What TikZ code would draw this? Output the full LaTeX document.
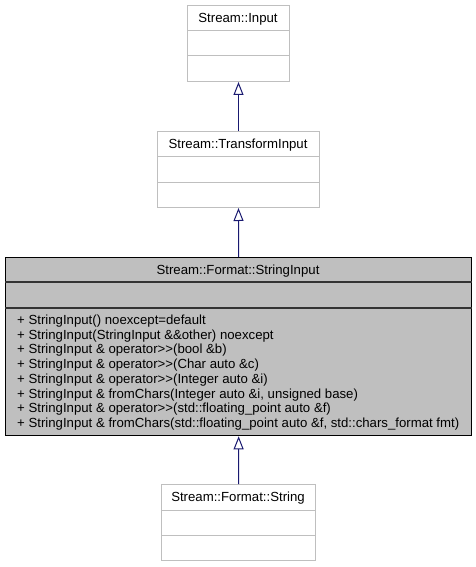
\documentclass[tikz,border=0pt]{standalone}
\usepackage{fontspec}
\setmainfont{Liberation Sans}
\usetikzlibrary{arrows.meta}
\definecolor{edgeblue}{HTML}{191970}
\definecolor{greyb}{HTML}{BFBFBF}
\begin{document}
\begin{tikzpicture}[x=1pt,y=-1pt,
  cls/.style={draw=greyb, fill=white, line width=1pt, inner sep=0pt, rectangle, anchor=north west},
  clsmain/.style={draw=black, fill=greyb, line width=1.3pt, inner sep=0pt, rectangle, anchor=north west},
  divg/.style={draw=greyb, line width=1pt},
  divk/.style={draw=black!80, line width=1.3pt},
  ttl/.style={anchor=base, inner sep=0pt, font=\fontsize{13.2}{14.7}\selectfont},
  mem/.style={anchor=base west, inner sep=0pt, font=\fontsize{13.2}{14.7}\selectfont},
  inh/.style={draw=edgeblue, line width=1pt, -{Triangle[open, length=13pt, width=10pt, fill=white]}}
]
\useasboundingbox (0,0) rectangle (476,567);

% Stream::Input
\node[cls, minimum width=102pt, minimum height=76pt] (input) at (187,5) {};
\draw[divg] ([yshift=-26pt]input.north west) -- ([yshift=-26pt]input.north east);
\draw[divg] ([yshift=-51pt]input.north west) -- ([yshift=-51pt]input.north east);
\node[ttl] (inputT) at (238,22.5) {Stream::Input};

% Stream::TransformInput
\node[cls, minimum width=162pt, minimum height=76pt] (trans) at (157,131) {};
\draw[divg] ([yshift=-25pt]trans.north west) -- ([yshift=-25pt]trans.north east);
\draw[divg] ([yshift=-51pt]trans.north west) -- ([yshift=-51pt]trans.north east);
\node[ttl] (transT) at (238,148) {Stream::TransformInput};

% Stream::Format::StringInput
\node[clsmain, minimum width=466pt, minimum height=178pt] (sinput) at (5,257) {};
\draw[divk] ([yshift=-25pt]sinput.north west) -- ([yshift=-25pt]sinput.north east);
\draw[divk] ([yshift=-51pt]sinput.north west) -- ([yshift=-51pt]sinput.north east);
\node[ttl] (sinputT) at (238,274) {Stream::Format::StringInput};
\node[mem] (m1) at (17,324.5) {+ StringInput() noexcept=default};
\node[mem] (m2) at (17,339.2) {+ StringInput(StringInput \&\&other) noexcept};
\node[mem] (m3) at (17,353.9) {+ StringInput \& operator>{}>(bool \&b)};
\node[mem] (m4) at (17,368.6) {+ StringInput \& operator>{}>(Char auto \&c)};
\node[mem] (m5) at (17,383.3) {+ StringInput \& operator>{}>(Integer auto \&i)};
\node[mem] (m6) at (17,398.0) {+ StringInput \& fromChars(Integer auto \&i, unsigned base)};
\node[mem] (m7) at (17,412.7) {+ StringInput \& operator>{}>(std::floating\_point auto \&f)};
\node[mem] (m8) at (17,427.4) {+ StringInput \& fromChars(std::floating\_point auto \&f, std::chars\_format fmt)};

% Stream::Format::String
\node[cls, minimum width=154pt, minimum height=76pt] (str) at (161,484) {};
\draw[divg] ([yshift=-26pt]str.north west) -- ([yshift=-26pt]str.north east);
\draw[divg] ([yshift=-51pt]str.north west) -- ([yshift=-51pt]str.north east);
\node[ttl] (strT) at (238,501.5) {Stream::Format::String};

% inheritance arrows
\draw[inh] (trans.north) -- (input.south);
\draw[inh] (sinput.north) -- (trans.south);
\draw[inh] (str.north) -- (sinput.south);
\end{tikzpicture}
\end{document}
